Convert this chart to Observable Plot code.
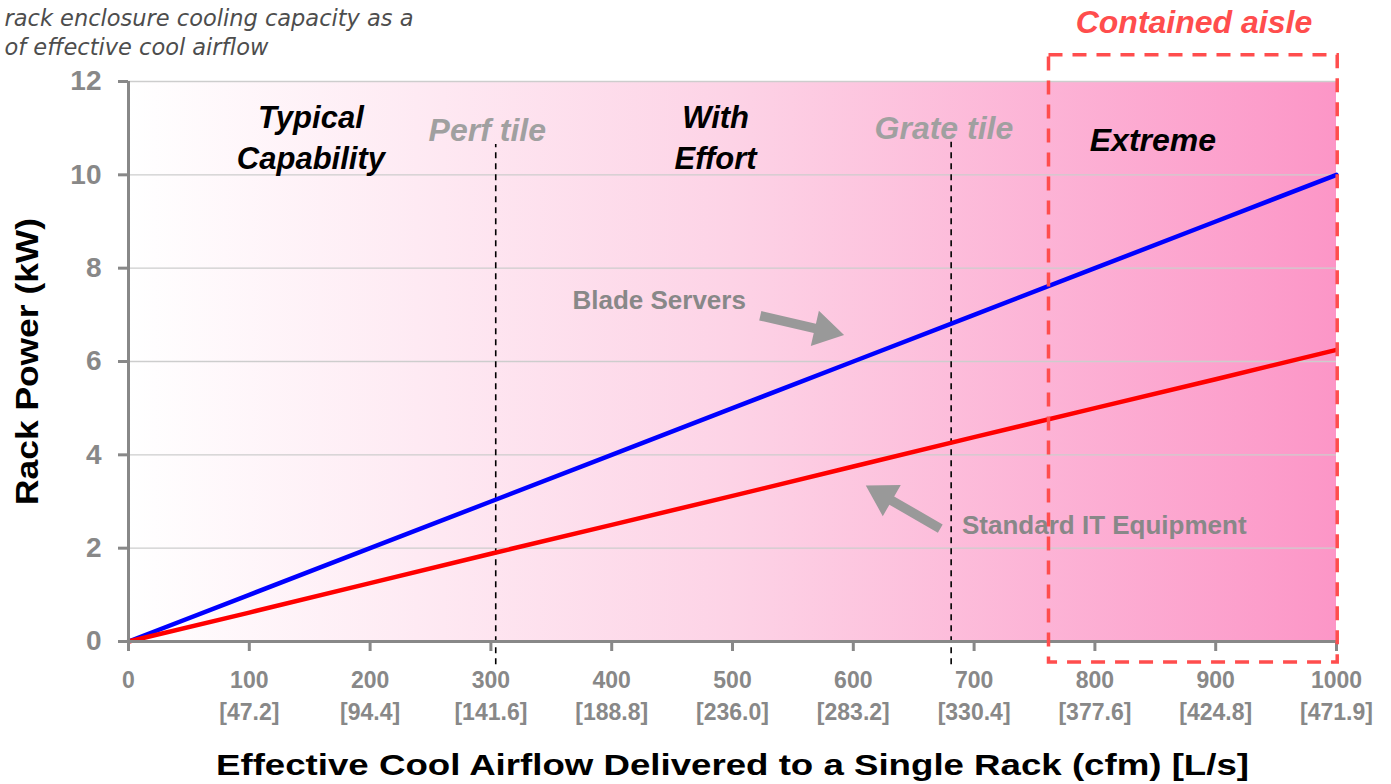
<!DOCTYPE html>
<html>
<head>
<meta charset="utf-8">
<script src="https://cdn.jsdelivr.net/npm/d3@7"></script>
<script src="https://cdn.jsdelivr.net/npm/@observablehq/plot@0.6"></script>
<style>
  html, body { margin: 0; padding: 0; background: #fff; }
  #chart { width: 1391px; height: 784px; overflow: hidden; }
</style>
</head>
<body>
<div id="chart"></div>
<script>
// ---- data ----
const cfm = [0, 100, 200, 300, 400, 500, 600, 700, 800, 900, 1000];
const bladeKW = [0, 1, 2, 3, 4, 5, 6, 7, 8, 9, 10];
const standardKW = [0, 0.62, 1.25, 1.88, 2.5, 3.12, 3.75, 4.38, 5, 5.62, 6.25];
const lsLabels = ["", "47.2", "94.4", "141.6", "188.8", "236.0", "283.2", "330.4", "377.6", "424.8", "471.9"];
const yTicks = [0, 2, 4, 6, 8, 10, 12];
const gridTicks = [2, 4, 6, 8, 10, 12];
const dividers = [{x: 304, top: 10.65}, {x: 681, top: 10.7}];
const containedBox = [{x1: 762, x2: 1001, y1: -0.45, y2: 12.56}];
const regionLabels = [
  {x: 151, y: 10.84, text: "Typical\nCapability", color: "#000", size: 31},
  {x: 297, y: 11.01, text: "Perf tile", color: "#a0a0a0", size: 32},
  {x: 486, y: 10.84, text: "With\nEffort", color: "#000", size: 31},
  {x: 675, y: 11.06, text: "Grate tile", color: "#a0a0a0", size: 32},
  {x: 848, y: 10.8, text: "Extreme", color: "#000", size: 32}
];
const containedLabel = [{x: 882, y: 13.26, text: "Contained aisle"}];
const seriesLabels = [
  {x: 367.5, y: 7.31, text: "Blade Servers"},
  {x: 690, y: 2.49, text: "Standard IT Equipment"}
];
const arrows = [
  {x: 523, y: 6.98, angle: 103},
  {x: 672, y: 2.42, angle: 300}
];
const titleLines = ["rack enclosure cooling capacity as a", "of effective cool airflow"];
const yLabel = "Rack Power (kW)";
const xLabel = "Effective Cool Airflow Delivered to a Single Rack (cfm) [L/s]";

// ---- build tables ----
const series = [
  ...cfm.map((c, i) => ({cfm: c, kw: bladeKW[i], s: "Blade"})),
  ...cfm.map((c, i) => ({cfm: c, kw: standardKW[i], s: "Standard"}))
];

const blockArrow = {
  draw(context, l) {
    const hw = 4.8, hl = 30, hh = 18;
    context.moveTo(-hw, 0);
    context.lineTo(-hw, -l + hl);
    context.lineTo(-hh, -l + hl);
    context.lineTo(0, -l);
    context.lineTo(hh, -l + hl);
    context.lineTo(hw, -l + hl);
    context.lineTo(hw, 0);
    context.closePath();
  }
};

const font = "'Liberation Sans', Arial, Helvetica, sans-serif";

const svg = Plot.plot({
  width: 1391,
  height: 784,
  marginTop: 81,
  marginBottom: 143,
  marginLeft: 128,
  marginRight: 55,
  style: {fontFamily: font, background: "white", overflow: "visible"},
  x: {domain: [0, 1000]},
  y: {domain: [0, 12]},
  marks: [
    Plot.rect([{x1: 0, x2: 1000, y1: 0, y2: 12}], {x1: "x1", x2: "x2", y1: "y1", y2: "y2", fill: "url(#bggrad)"}),
    Plot.gridY({ticks: gridTicks, stroke: "#cdcdcd", strokeOpacity: 1, strokeWidth: 1.3}),
    Plot.ruleX(dividers, {x: "x", y1: -0.5, y2: "top", stroke: "#000", strokeWidth: 1.6, strokeDasharray: "6,5"}),
    Plot.line(series, {x: "cfm", y: "kw", z: "s", stroke: d => d.s === "Blade" ? "#0000ff" : "#ff0000", strokeWidth: 4.5}),
    Plot.axisY({ticks: yTicks, tickSize: 10, tickPadding: 17, fontSize: 28, fontWeight: "bold", color: "#888", strokeWidth: 3, label: null}),
    Plot.axisX({ticks: cfm, tickSize: 10, tickPadding: 14, fontSize: 23, fontWeight: "bold", color: "#888", strokeWidth: 3, lineHeight: 1.39, label: null,
      tickFormat: (d) => { const i = cfm.indexOf(d); return lsLabels[i] ? `${d}\n[${lsLabels[i]}]` : `${d}`; }}),
    Plot.ruleX([0], {stroke: "#888", strokeWidth: 3}),
    Plot.ruleY([0], {stroke: "#888", strokeWidth: 3}),
    Plot.text(regionLabels, {x: "x", y: "y", text: "text", fill: "color", fontSize: "size", fontWeight: "bold", fontStyle: "italic", lineHeight: 1.3, lineAnchor: "middle"}),
    Plot.text(containedLabel, {x: "x", y: "y", text: "text", fill: "#ff4d4d", fontSize: 32, fontWeight: "bold", fontStyle: "italic", lineAnchor: "middle"}),
    Plot.text(seriesLabels, {x: "x", y: "y", text: "text", fill: "#888", fontSize: 26, fontWeight: "bold", textAnchor: "start", lineAnchor: "middle"}),
    Plot.vector(arrows, {x: "x", y: "y", rotate: "angle", length: 86, anchor: "start", shape: blockArrow, fill: "#999", stroke: "none"}),
    Plot.rect(containedBox, {x1: "x1", x2: "x2", y1: "y1", y2: "y2", fill: "none", stroke: "#ff4d4d", strokeWidth: 3.5, strokeDasharray: "14,10"}),
    Plot.text([yLabel], {frameAnchor: "left", dx: -101, rotate: -90, textAnchor: "middle", fontSize: 32, fontWeight: "bold", fill: "#000"}),
    Plot.text([xLabel], {frameAnchor: "bottom", dy: 124, textAnchor: "middle", fontSize: 30, fontWeight: "bold", fill: "#000", lineAnchor: "middle"}),
    Plot.text([titleLines.join("\n")], {frameAnchor: "top-left", dx: -124, dy: -50, textAnchor: "start", lineAnchor: "middle", lineHeight: 1.27, fontSize: 22.5, fontStyle: "italic", fill: "#4d4d4d", fontFamily: "'DejaVu Sans', sans-serif"})
  ]
});

const defs = d3.select(svg).insert("defs", ":first-child");
const grad = defs.append("linearGradient").attr("id", "bggrad").attr("x1", "0").attr("x2", "1").attr("y1", "0").attr("y2", "0");
grad.append("stop").attr("offset", "0").attr("stop-color", "#ffffff");
grad.append("stop").attr("offset", "0.5").attr("stop-color", "#fdd3e6");
grad.append("stop").attr("offset", "1").attr("stop-color", "#fc96c7");

// widen the axis titles to the reference's wide setting
d3.select(svg).selectAll("text").filter(function() { return this.textContent === xLabel; })
  .attr("textLength", 1033).attr("lengthAdjust", "spacingAndGlyphs");
d3.select(svg).selectAll("text").filter(function() { return this.textContent === yLabel; })
  .attr("textLength", 287).attr("lengthAdjust", "spacingAndGlyphs");

document.getElementById("chart").appendChild(svg);
</script>
</body>
</html>
